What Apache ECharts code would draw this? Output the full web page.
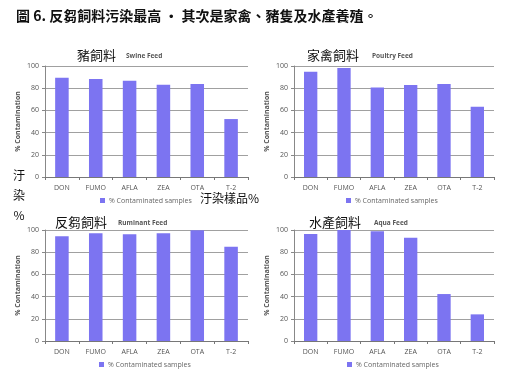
<!DOCTYPE html>
<html><head><meta charset="utf-8">
<script src="https://cdn.jsdelivr.net/npm/echarts@6/dist/echarts.min.js"></script>
<style>html,body{margin:0;padding:0;background:#fff}#c{width:511px;height:382px}</style>
</head><body><div id="c"></div>
<script>
var categories = ['DON','FUMO','AFLA','ZEA','OTA','T-2'];
var yTicks = [0,20,40,60,80,100];
var seriesName = '% Contaminated samples';
var swineValues = [89.5, 88.3, 86.8, 83.1, 83.7, 52.2];
var poultryValues = [94.9, 98.2, 80.7, 82.8, 83.7, 63.3];
var ruminantValues = [94.3, 97.0, 96.1, 97.0, 99.7, 85.0];
var aquaValues = [96.4, 100, 98.8, 93.1, 42.3, 24.0];
var panelTitles = ['豬飼料','家禽飼料','反芻飼料','水產飼料'];
var panelSubtitles = ['Swine Feed','Poultry Feed','Ruminant Feed','Aqua Feed'];
var headerText = '圖 6. 反芻飼料污染最高 · 其次是家禽、豬隻及水產養殖。';

var panelData = [swineValues, poultryValues, ruminantValues, aquaValues];
var grids = [
  {left:45, top:66, width:203, height:111},
  {left:294, top:66, width:200, height:111},
  {left:45, top:230, width:203, height:111},
  {left:294, top:230, width:200, height:111}
];
var titlePos = [[77,55,126],[307,55,372],[55,222,118],[309,222,374]];
var legendPos = [[100,197],[346,197],[99,361],[347,361]];
var CJK = '"Noto Sans CJK TC","Noto Sans CJK SC",sans-serif';
var LAT = '"Open Sans","Noto Sans",sans-serif';
var barColor = '#7c74f1';

var option = {
  animation:false,
  backgroundColor:'#fff',
  grid: grids.map(function(g){return Object.assign({containLabel:false}, g);}),
  xAxis: grids.map(function(g,i){return {
    gridIndex:i, type:'category', data:categories,
    axisLine:{lineStyle:{color:'#777', width:1}},
    axisTick:{show:true, length:3, lineStyle:{color:'#777'}},
    axisLabel:{fontSize:7, color:'#555', fontFamily:LAT, margin:7}
  };}),
  yAxis: grids.map(function(g,i){return {
    gridIndex:i, type:'value', min:yTicks[0], max:yTicks[yTicks.length-1], interval:20,
    name:'% Contamination', nameLocation:'middle', nameRotate:90, nameGap:24,
    nameTextStyle:{fontSize:7, fontWeight:'bold', color:'#555', fontFamily:LAT},
    axisLine:{show:true, lineStyle:{color:'#888'}},
    axisTick:{show:true, length:3, lineStyle:{color:'#888'}},
    axisLabel:{fontSize:7, color:'#555', fontFamily:LAT, margin:6},
    splitLine:{lineStyle:{color:'#a0a0a0', width:1}}
  };}),
  legend: legendPos.map(function(p){return {
    data:[seriesName], left:p[0], top:p[1],
    icon:'rect', itemWidth:5, itemHeight:5, itemGap:4, padding:0,
    textStyle:{fontSize:7, color:'#666', fontFamily:LAT, padding:[0,0,0,-1]}
  };}),
  series: panelData.map(function(d,i){return {
    name:seriesName, type:'bar', xAxisIndex:i, yAxisIndex:i, data:d,
    barWidth:'40%', itemStyle:{color:barColor}
  };}),
  graphic: []
};

option.graphic.push({type:'text', left:16, top:9, style:{text:headerText, font:'bold 14px '+CJK, fill:'#111'}});
titlePos.forEach(function(p,i){
  option.graphic.push({type:'text', x:p[0], y:p[1], style:{text:panelTitles[i], font:'13px '+CJK, fill:'#111', verticalAlign:'middle'}});
  option.graphic.push({type:'text', x:p[2], y:p[1]+1, style:{text:panelSubtitles[i], font:'bold 6.5px '+LAT, fill:'#555', verticalAlign:'middle'}});
});
[['汙',175],['染',195],['%',215]].forEach(function(t){
  option.graphic.push({type:'text', x:19, y:t[1], style:{text:t[0], font:'12px '+CJK, fill:'#111', align:'center', verticalAlign:'middle'}});
});
option.graphic.push({type:'text', x:200, y:198, style:{text:'汙染樣品%', font:'12px '+CJK, fill:'#111', verticalAlign:'middle'}});

var chart = echarts.init(document.getElementById('c'), null, {renderer:'canvas'});
chart.setOption(option);
</script></body></html>
